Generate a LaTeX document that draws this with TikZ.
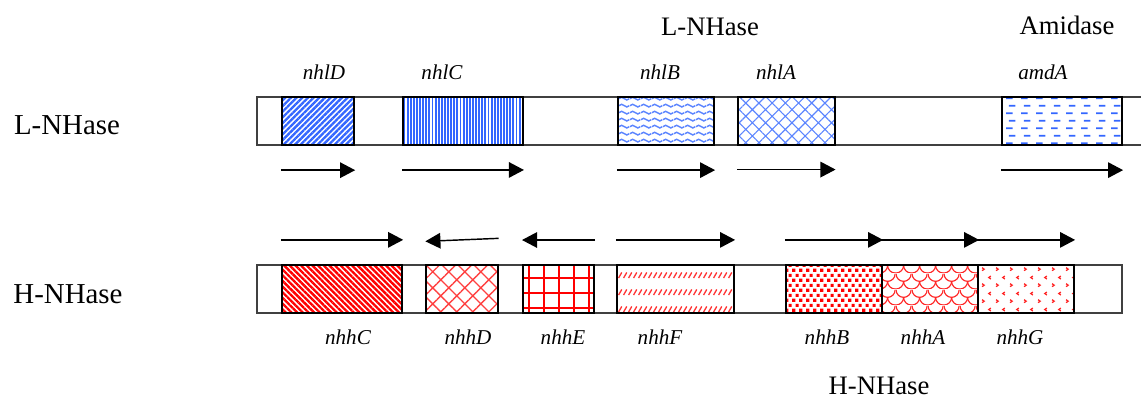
\documentclass[tikz,border=0pt]{standalone}
\usepackage{fontspec}
\setmainfont{Liberation Serif}
\usetikzlibrary{positioning,fit}
\usetikzlibrary{arrows.meta,patterns.meta}

\definecolor{geneblue}{RGB}{51,102,255}
\definecolor{genered}{RGB}{255,0,0}
\newlength\px
\setlength\px{0.45pt}

% fill patterns of the genes
\tikzdeclarepattern{name=wavy, type=uncolored,
  bounding box={(0pt,0pt) and (4.8pt,3.3pt)}, tile size={(4.8pt,3.3pt)},
  code={\draw[line width=0.7pt] (0pt,1.65pt) sin (1.2pt,2.3pt) cos (2.4pt,1.65pt) sin (3.6pt,1pt) cos (4.8pt,1.65pt);}}
\tikzdeclarepattern{name=dashrows, type=uncolored,
  bounding box={(0pt,0pt) and (6.75pt,6.7pt)}, tile size={(6.75pt,6.7pt)},
  code={\draw[line width=0.85pt] (0.5pt,1.7pt) -- (3.6pt,1.7pt);
        \draw[line width=0.85pt] (1.8pt,5.05pt) -- (4.9pt,5.05pt);}}
\tikzdeclarepattern{name=slashrows, type=uncolored,
  bounding box={(0pt,0pt) and (2.4pt,7.5pt)}, tile size={(2.4pt,7.5pt)},
  code={\draw[line width=0.65pt] (0.3pt,2.3pt) -- (1.9pt,4.8pt);}}
\tikzdeclarepattern{name=squaredots, type=uncolored,
  bounding box={(0pt,0pt) and (3.1pt,4.4pt)}, tile size={(3.1pt,4.4pt)},
  code={\fill (0.1pt,0.1pt) rectangle (1.5pt,1.5pt);
        \fill (1.65pt,2.3pt) rectangle (3.05pt,3.7pt);}}
\tikzdeclarepattern{name=scales, type=uncolored,
  bounding box={(0pt,0pt) and (7.2pt,7.2pt)}, tile size={(7.2pt,7.2pt)},
  code={\draw[line width=0.55pt] (0pt,7.2pt) arc[start angle=180,end angle=360,radius=3.6pt];
        \draw[line width=0.55pt] (-3.6pt,3.6pt) arc[start angle=180,end angle=360,radius=3.6pt];
        \draw[line width=0.55pt] (3.6pt,3.6pt) arc[start angle=180,end angle=360,radius=3.6pt];}}
\tikzdeclarepattern{name=chevrons, type=uncolored,
  bounding box={(0pt,0pt) and (6.3pt,7.2pt)}, tile size={(6.3pt,7.2pt)},
  code={\draw[line width=0.6pt] (1pt,1.1pt) -- (2pt,1.8pt) -- (1pt,2.5pt);
        \draw[line width=0.6pt] (5.2pt,4.7pt) -- (4.2pt,5.4pt) -- (5.2pt,6.1pt);}}

\tikzset{
  chrom/.style={draw=black!75, line width=0.6pt, inner sep=0pt},
  gene/.style={draw=black, line width=1pt, inner sep=0pt},
  orf/.style={-{Triangle[length=6.8pt,width=7pt]}, line width=0.65pt},
  genelabel/.style={font=\fontsize{9.5}{11}\selectfont\itshape, inner sep=0pt},
  enzymelabel/.style={font=\fontsize{12}{14}\selectfont, inner sep=0pt},
  rowlabel/.style={font=\fontsize{13}{15}\selectfont, inner sep=0pt}
}

\begin{document}
\begin{tikzpicture}[x=\px,y=-\px]
  \useasboundingbox (0,0) rectangle (1141,400);

  % L-NHase cluster, runs on past the right edge
  \draw[draw=black!75, line width=0.6pt] (1141,97) -| (257,145) -- (1141,145);
  \node[gene, fit={(282,97) (354,145)}, pattern={Lines[angle=45,distance=1.8pt,line width=1.05pt]}, pattern color=geneblue] (nhlD) {};
  \node[gene, fit={(403,97) (523,145)}, pattern={Lines[angle=90,distance=1.4pt,line width=0.85pt]}, pattern color=geneblue] (nhlC) {};
  \node[gene, fit={(618,97) (714,145)}, pattern=wavy, pattern color=geneblue!80] (nhlB) {};
  \node[gene, fit={(738,97) (835,145)}, pattern={Hatch[angle=45,distance=4.2pt,line width=0.5pt]}, pattern color=geneblue!80] (nhlA) {};
  \node[gene, fit={(1002,97) (1122,145)}, pattern=dashrows, pattern color=geneblue] (amdA) {};

  \foreach \g in {nhlD,nhlC,nhlB,nhlA,amdA}
    \draw[orf] ([yshift=-24\px]\g.south west) -- ([yshift=-24\px]\g.south east);

  \node[enzymelabel] (ltitle) at (710,27) {L-NHase};
  \node[enzymelabel] (amidase) at (1067,25) {Amidase};
  \node[genelabel] (nhlD-lab) at (324,72) {nhlD};
  \node[genelabel] (nhlC-lab) at (442,72) {nhlC};
  \node[genelabel] (nhlB-lab) at (660,72) {nhlB};
  \node[genelabel] (nhlA-lab) at (776,72) {nhlA};
  \node[genelabel] (amdA-lab) at (1043,72) {amdA};
  \node[rowlabel] (lrow) at (67,125) {L-NHase};

  % H-NHase cluster
  \node[chrom, fit={(257,265) (1122,313)}] (hbar) {};
  \node[gene, fit={(282,265) (402,313)}, pattern={Lines[angle=-45,distance=1.8pt,line width=1.05pt]}, pattern color=genered] (nhhC) {};
  \node[gene, fit={(426,265) (498,313)}, pattern={Hatch[angle=45,distance=5.1pt,line width=0.6pt]}, pattern color=genered!75] (nhhD) {};
  \node[gene, fit={(523,265) (594,313)}, pattern={Hatch[angle=0,distance=6.75pt,line width=0.9pt,xshift=2pt,yshift=1pt]}, pattern color=genered] (nhhE) {};
  \node[gene, fit={(617,265) (734,313)}, pattern=slashrows, pattern color=genered!80] (nhhF) {};
  \node[gene, fit={(786,265) (882,313)}, pattern=squaredots, pattern color=genered] (nhhB) {};
  \node[gene, fit={(882,265) (978,313)}, pattern=scales, pattern color=genered!85] (nhhA) {};
  \node[gene, fit={(978,265) (1074,313)}, pattern=chevrons, pattern color=genered!85] (nhhG) {};

  \foreach \g in {nhhC,nhhF,nhhB,nhhA,nhhG}
    \draw[orf] ([yshift=24\px]\g.north west) -- ([yshift=24\px]\g.north east);
  \draw[orf] ([yshift=26\px]nhhD.north east) -- ([yshift=23\px]nhhD.north west);
  \draw[orf] ([yshift=24\px]nhhE.north east) -- ([yshift=24\px]nhhE.north west);

  \node[genelabel] (nhhC-lab) at (348,337) {nhhC};
  \node[genelabel] (nhhD-lab) at (468,337) {nhhD};
  \node[genelabel] (nhhE-lab) at (563,337) {nhhE};
  \node[genelabel] (nhhF-lab) at (660,337) {nhhF};
  \node[genelabel] (nhhB-lab) at (827,337) {nhhB};
  \node[genelabel] (nhhA-lab) at (923,337) {nhhA};
  \node[genelabel] (nhhG-lab) at (1020,337) {nhhG};
  \node[rowlabel] (hrow) at (68,294) {H-NHase};
  \node[enzymelabel] (htitle) at (879,386) {H-NHase};
\end{tikzpicture}
\end{document}
